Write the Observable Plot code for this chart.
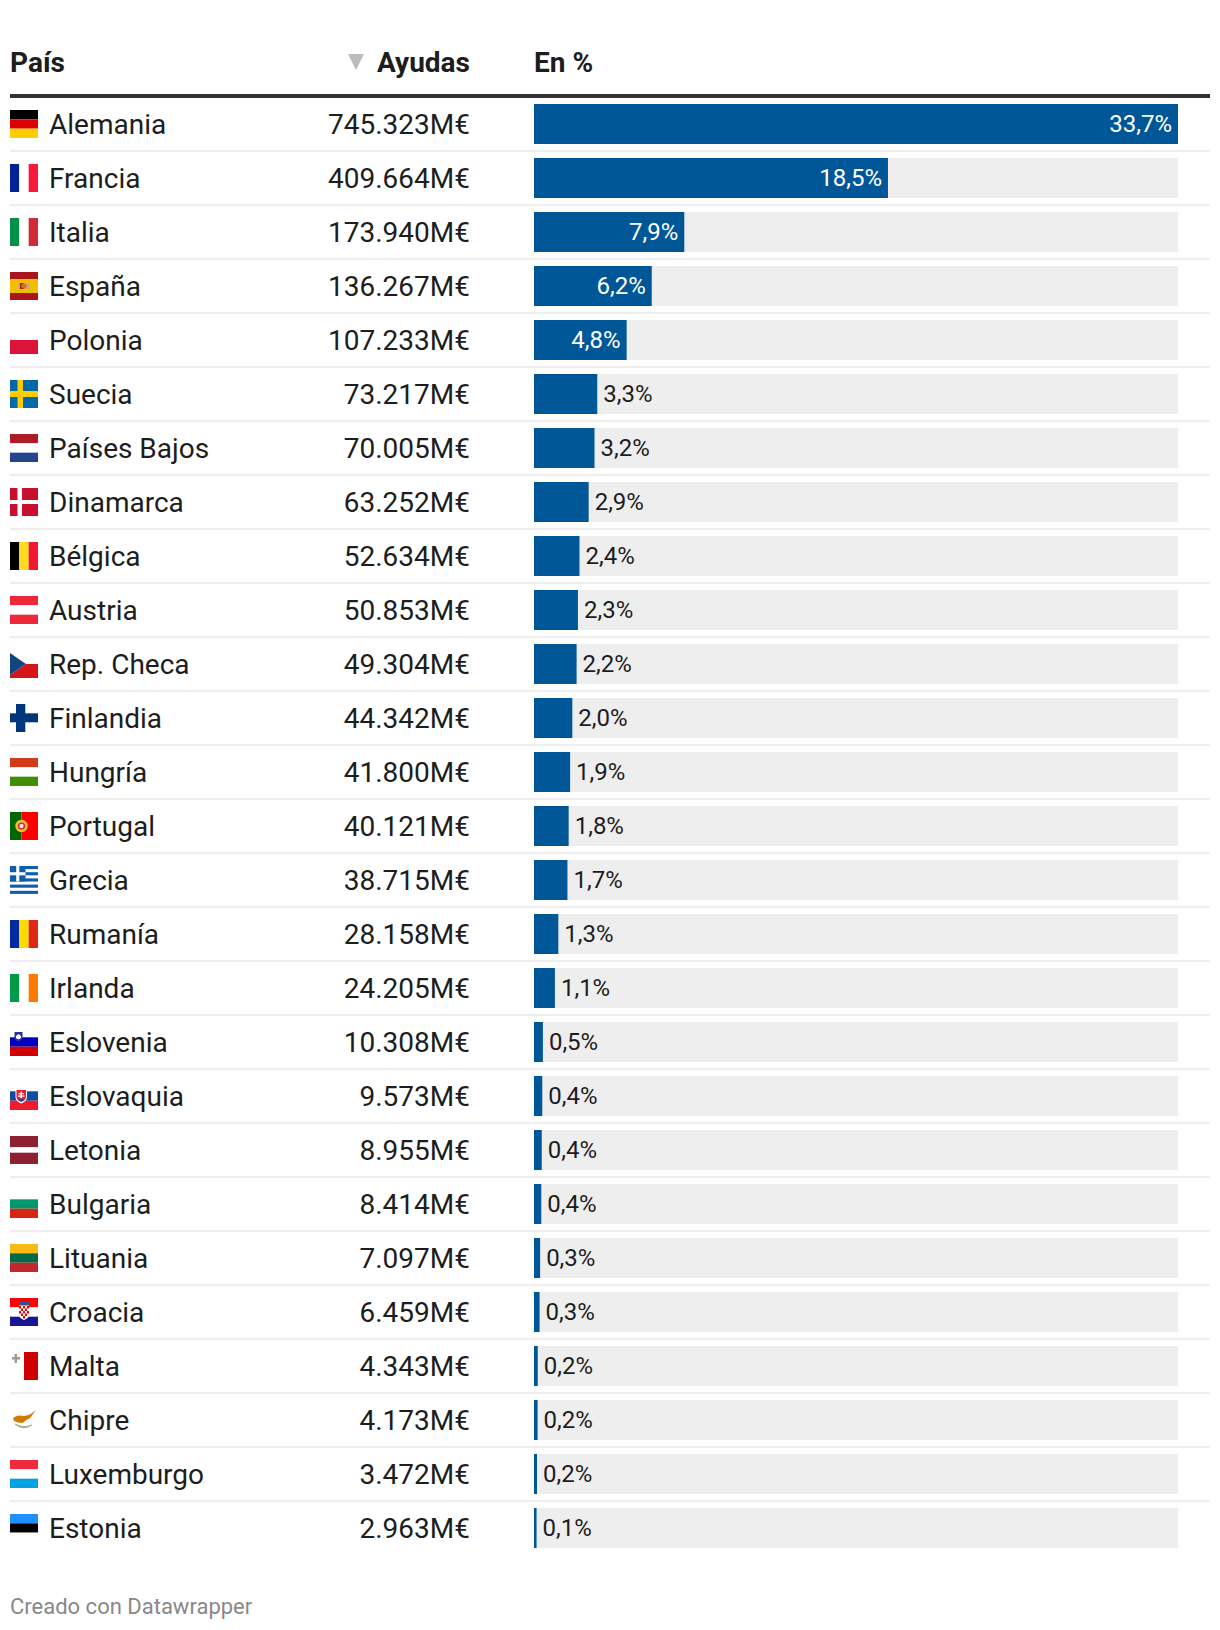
<!DOCTYPE html>
<html lang="es">
<head>
<meta charset="utf-8">
<title>Ayudas por país</title>
<script src="https://cdn.jsdelivr.net/npm/d3@7"></script>
<script src="https://cdn.jsdelivr.net/npm/@observablehq/plot@0.6"></script>
<style>
html,body{margin:0;padding:0;background:#fff;overflow:hidden}
body{font-family:Roboto,sans-serif;color:#1d1d1d;width:1220px;height:1630px;position:relative}
.h{position:absolute;top:44px;line-height:38px;font-size:28px;font-weight:700;white-space:nowrap}
#rule{position:absolute;left:10px;width:1200px;top:94px;height:4px;background:#333}
#tri{position:absolute;left:348px;top:54px;width:0;height:0;border-left:8px solid transparent;border-right:8px solid transparent;border-top:16px solid #bbb}
#chart{position:absolute;left:0;top:98px}
#chart svg{display:block}
#foot{position:absolute;left:10px;top:1592px;font-size:22px;line-height:30px;color:#888}
</style>
</head>
<body>
<div class="h" style="left:10px">País</div>
<div id="tri"></div>
<div class="h" style="right:750px">Ayudas</div>
<div class="h" style="left:534px">En %</div>
<div id="rule"></div>
<div id="chart"></div>
<div id="foot">Creado con Datawrapper</div>
<script>
const paises = ["Alemania","Francia","Italia","España","Polonia","Suecia","Países Bajos","Dinamarca","Bélgica","Austria","Rep. Checa","Finlandia","Hungría","Portugal","Grecia","Rumanía","Irlanda","Eslovenia","Eslovaquia","Letonia","Bulgaria","Lituania","Croacia","Malta","Chipre","Luxemburgo","Estonia"];
const ayudas = [745323,409664,173940,136267,107233,73217,70005,63252,52634,50853,49304,44342,41800,40121,38715,28158,24205,10308,9573,8955,8414,7097,6459,4343,4173,3472,2963];
const porcentajes = [33.7,18.5,7.9,6.2,4.8,3.3,3.2,2.9,2.4,2.3,2.2,2.0,1.9,1.8,1.7,1.3,1.1,0.5,0.4,0.4,0.4,0.3,0.3,0.2,0.2,0.2,0.1];

const st = (a,b,c,y1=9.33,y2=18.67)=>`<rect width="28" height="${y1}" fill="${a}"/><rect y="${y1}" width="28" height="${y2-y1}" fill="${b}"/><rect y="${y2}" width="28" height="${28-y2}" fill="${c}"/>`;
const vs = (a,b,c)=>`<rect width="9.33" height="28" fill="${a}"/><rect x="9.33" width="9.34" height="28" fill="${b}"/><rect x="18.67" width="9.33" height="28" fill="${c}"/>`;
const banderas = {
  "Alemania": st("#000","#dd0000","#ffce00"),
  "Francia": vs("#002395","#fff","#f7193c"),
  "Italia": vs("#009246","#fff","#ce2b37"),
  "España": st("#aa151b","#f1bf00","#aa151b",7,21)+`<rect x="10" y="11" width="4" height="6" fill="#ad1519"/><circle cx="14" cy="14" r="2.8" fill="#c8742a"/><rect x="8.5" y="11" width="1" height="6.5" fill="#b9a"/><rect x="18" y="11" width="1" height="6.5" fill="#b9a"/>`,
  "Polonia": `<rect y="14" width="28" height="14" fill="#dc143c"/>`,
  "Suecia": `<rect width="28" height="28" fill="#006aa7"/><rect x="7.5" width="5.5" height="28" fill="#fecc00"/><rect y="11" width="28" height="6" fill="#fecc00"/>`,
  "Países Bajos": st("#ae1c28","#fff","#21468b"),
  "Dinamarca": `<rect width="28" height="28" fill="#c8102e"/><rect x="7.5" width="4.5" height="28" fill="#fff"/><rect y="12" width="28" height="4" fill="#fff"/>`,
  "Bélgica": vs("#000","#fdda24","#f31830"),
  "Austria": st("#ed2939","#fff","#ed2939"),
  "Rep. Checa": `<path d="M16 14H28V28H0V25Z" fill="#d7141a"/><path d="M0 3L16 14L0 25Z" fill="#11457e"/>`,
  "Finlandia": `<rect x="6" width="9.3" height="28" fill="#003580"/><rect y="9.3" width="28" height="9" fill="#003580"/>`,
  "Hungría": st("#d4391c","#fff","#3f8f00"),
  "Portugal": `<rect width="11.5" height="28" fill="#006600"/><rect x="11.5" width="16.5" height="28" fill="#ff0000"/><circle cx="11.5" cy="14" r="6.2" fill="#e8c33a"/><circle cx="11.5" cy="14" r="3.6" fill="#d22"/><circle cx="11.5" cy="14" r="2.2" fill="#dde"/>`,
  "Grecia": `<rect width="28" height="28" fill="#fff"/>`+[0,6.2,12.4,18.6,24.8].map(y=>`<rect y="${y}" width="28" height="3.1" fill="#0d5eaf"/>`).join("")+`<rect width="15.5" height="15.5" fill="#0d5eaf"/><rect x="6.2" width="3.1" height="15.5" fill="#fff"/><rect y="6.2" width="15.5" height="3.1" fill="#fff"/>`,
  "Rumanía": vs("#002b9f","#fcd900","#e0281a"),
  "Irlanda": vs("#009a49","#fff","#ff7900"),
  "Eslovenia": `<rect y="9.3" width="28" height="9.4" fill="#0000c0"/><rect y="18.7" width="28" height="9.3" fill="#d00000"/><path d="M4.5 4H12.5V10Q12.5 12 8.5 13.5Q4.5 12 4.5 10Z" fill="#2d2d9f"/><path d="M6 8L8.5 6L11 8V10Q8.5 12.5 6 10Z" fill="#fff"/>`,
  "Eslovaquia": `<rect y="9.3" width="28" height="9.4" fill="#0b4ea2"/><rect y="18.7" width="28" height="9.3" fill="#ee1c2e"/><path d="M5.5 7H17V15Q17 19 11.2 21.5Q5.5 19 5.5 15Z" fill="#fff"/><path d="M6.5 8H16V15Q16 18 11.2 20Q6.5 18 6.5 15Z" fill="#ee1c2e"/><path d="M10.5 9.5H12V11H14V12.2H12V13.5H14.5V14.7H12V16.5H10.5V14.7H8V13.5H10.5V12.2H8.5V11H10.5Z" fill="#fff"/><path d="M8 18Q11.2 14.5 14.5 18Q11.2 20.5 8 18Z" fill="#0b4ea2"/>`,
  "Letonia": st("#8f1f33","#fff","#8f1f33",11.3,16.7),
  "Bulgaria": st("#fff","#00966e","#d62612"),
  "Lituania": st("#fdb913","#006a44","#c1272d"),
  "Croacia": st("#ff0000","#fff","#171796")+`<rect x="9" y="4" width="10" height="3.5" fill="#35528f"/><path d="M9 7.5H19V17Q19 20 14 22Q9 20 9 17Z" fill="#fff"/>`+[[9,8],[13,8],[17,8],[11,10.5],[15,10.5],[9,13],[13,13],[17,13],[11,15.5],[15,15.5],[13,18]].map(([x,y])=>`<rect x="${x}" y="${y}" width="2" height="2.5" fill="#e00"/>`).join(""),
  "Malta": `<rect x="14" width="14" height="28" fill="#cf0000"/><path d="M4.5 2H7V5H10V7.5H7V11H4.5V7.5H2V5H4.5Z" fill="#a89a8a"/>`,
  "Chipre": `<path d="M3 12Q8 8.5 13 10Q19 9.5 22 7L26 4L23 8L21 11Q19 13 17 13.5Q15 15 12.5 17Q8 17 4 15Z" fill="#d57800"/><path d="M5 18Q13 25 22 19Q13 22.5 5 18Z" fill="#7c8f58" stroke="#a8b590" stroke-width="1"/>`,
  "Luxemburgo": st("#ef2b3d","#fff","#00a2e1"),
  "Estonia": st("#1e90ff","#000","#fff")
};
const uri = s => "data:image/svg+xml," + encodeURIComponent(`<svg xmlns="http://www.w3.org/2000/svg" width="28" height="28" viewBox="0 0 28 28">${s}</svg>`);

const es = d3.formatLocale({decimal:",",thousands:".",grouping:[3],currency:["","€"]});
const fmtA = es.format(",");
const fmtP = es.format(".1f");
const filas = paises.map((pais,i)=>({pais, ayuda:ayudas[i], pct:porcentajes[i], src:uri(banderas[pais])}));
const maximo = d3.max(ayudas);
const umbral = 4;

const ML = 534, MR = 42;
const font = "Roboto, sans-serif";
const chart = Plot.plot({
  width:1220, height:1460,
  marginLeft:ML, marginRight:MR, marginTop:6, marginBottom:10,
  style:{background:"transparent",fontFamily:font},
  x:{domain:[0,maximo],axis:null,round:false},
  y:{type:"band",domain:paises,axis:null,paddingInner:14/54,paddingOuter:0,round:false},
  marks:[
    Plot.ruleY(paises.slice(0,-1),{y:d=>d,dy:26.5,stroke:"#eeeeee",strokeWidth:2,insetLeft:10-ML,insetRight:10-MR}),
    Plot.barX(filas,{y:"pais",x1:0,x2:()=>maximo,fill:"#eeeeee"}),
    Plot.barX(filas,{y:"pais",x1:0,x2:"ayuda",fill:"#005797"}),
    Plot.image(filas,{y:"pais",src:"src",width:28,height:28,frameAnchor:"left",dx:23.5-ML,dy:-0.5}),
    Plot.text(filas,{y:"pais",text:"pais",frameAnchor:"left",textAnchor:"start",dx:48.5-ML,dy:1,fontSize:28,fill:"#1d1d1d",lineAnchor:"middle"}),
    Plot.text(filas,{y:"pais",text:d=>fmtA(d.ayuda)+"M€",frameAnchor:"left",textAnchor:"end",dx:469.5-ML,dy:1,fontSize:28,fill:"#1d1d1d",lineAnchor:"middle",fontVariant:"tabular-nums"}),
    Plot.text(filas.filter(d=>d.pct>=umbral),{y:"pais",x:"ayuda",text:d=>fmtP(d.pct)+"%",textAnchor:"end",dx:-6.5,fontSize:24,fill:"#fff",lineAnchor:"middle"}),
    Plot.text(filas.filter(d=>d.pct<umbral),{y:"pais",x:"ayuda",text:d=>fmtP(d.pct)+"%",textAnchor:"start",dx:5.5,fontSize:24,fill:"#1d1d1d",lineAnchor:"middle"})
  ]
});
document.getElementById("chart").append(chart);
</script>
</body>
</html>
